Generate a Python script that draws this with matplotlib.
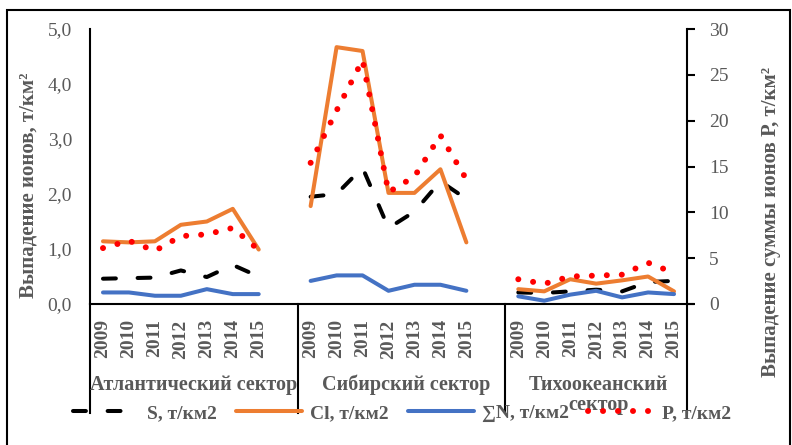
import numpy as np
import matplotlib
matplotlib.use('Agg')
from matplotlib import pyplot as plt
from matplotlib.patches import Rectangle

plt.rcParams['font.family'] = ['Liberation Serif', 'DejaVu Serif']

# Data
years = ['2009', '2010', '2011', '2012', '2013', '2014', '2015']
sectors = ['Атлантический сектор', 'Сибирский сектор', 'Тихоокеанский\nсектор']

S_atl = [0.46, 0.47, 0.48, 0.61, 0.49, 0.71, 0.50]
S_sib = [1.95, 2.00, 2.48, 1.38, 1.68, 2.23, 1.91]
S_pac = [0.21, 0.20, 0.23, 0.26, 0.23, 0.40, 0.42]

Cl_atl = [1.14, 1.12, 1.14, 1.44, 1.50, 1.73, 0.99]
Cl_sib = [1.78, 4.67, 4.60, 2.02, 2.02, 2.45, 1.12]
Cl_pac = [0.27, 0.23, 0.45, 0.37, 0.43, 0.50, 0.23]

N_atl = [0.21, 0.21, 0.15, 0.15, 0.27, 0.18, 0.18]
N_sib = [0.42, 0.52, 0.52, 0.24, 0.35, 0.35, 0.24]
N_pac = [0.14, 0.06, 0.17, 0.24, 0.12, 0.21, 0.18]

P_atl = [6.1, 6.9, 5.8, 7.4, 7.6, 8.3, 5.9]
P_sib = [15.4, 21.1, 26.6, 12.2, 13.9, 18.4, 13.6]
P_pac = [2.7, 2.2, 3.0, 3.1, 3.2, 4.5, 3.4]


def join(a, b, c):
    # blank category between sectors breaks the line
    return np.array(a + [np.nan] + b + [np.nan] + c, dtype=float)


S = join(S_atl, S_sib, S_pac)
Cl = join(Cl_atl, Cl_sib, Cl_pac)
N = join(N_atl, N_sib, N_pac)
P = join(P_atl, P_sib, P_pac)
x = np.arange(len(S))

gray = '#595959'

fig = plt.figure(figsize=(7.92, 4.45), dpi=100)
fig.patches.append(Rectangle((7 / 792, -0.02), 783 / 792, 1 - 10 / 445 + 0.02,
                             transform=fig.transFigure, fill=False,
                             edgecolor='black', lw=1.5))

ax = fig.add_axes([90 / 792, 1 - 304 / 445, 597 / 792, 275 / 445])

l_s, = ax.plot(x, S, color='black', lw=2.9, linestyle=(0, (3.2, 5.4)),
               dash_capstyle='round', label='S, т/км2')
l_cl, = ax.plot(x, Cl, color='#ED7D31', lw=2.9, solid_capstyle='round',
                solid_joinstyle='round', label='Cl, т/км2')
l_n, = ax.plot(x, N, color='#4472C4', lw=2.9, solid_capstyle='round',
               solid_joinstyle='round', label='∑N, т/км2')

ax.set_xlim(-0.5, 22.5)
ax.set_ylim(0, 5)
ax.set_yticks(np.arange(0, 6, 1))
ax.set_yticklabels(['0,0', '1,0', '2,0', '3,0', '4,0', '5,0'])
ax.tick_params(axis='y', length=0, pad=13, labelsize=14, labelcolor=gray)

pos = [i for i in range(23) if i not in (7, 15)]
ax.set_xticks(pos)
ax.set_xticklabels(years * 3, rotation=90, fontweight='bold')
ax.tick_params(axis='x', length=0, pad=11, labelsize=14, labelcolor=gray)

for s in ['top', 'right']:
    ax.spines[s].set_visible(False)
ax.spines['left'].set_linewidth(1.5)
ax.spines['bottom'].set_linewidth(1.5)
ax.spines['bottom'].set_bounds(-0.5, 22.73)

# sector separators and labels
for xs in [-0.5, 7.5, 15.5, 22.5]:
    ax.plot([xs, xs], [0, -0.396], transform=ax.get_xaxis_transform(),
            color='black', lw=1.5, clip_on=False)
centers = [3.5, 11.7, 19.1]
for c, name in zip(centers, sectors):
    two = '\n' in name
    ax.text(c, -0.258 if two else -0.295, name,
            transform=ax.get_xaxis_transform(),
            ha='center', va='top' if two else 'center',
            fontsize=14.5, fontweight='bold', color=gray,
            linespacing=1.0)

ax2 = ax.twinx()
l_p, = ax2.plot(x, P, color='#FF0000', lw=4.3, linestyle=(0, (0.01, 2.5)),
                dash_capstyle='round', label='P, т/км2')
ax2.set_ylim(0, 30)
ax2.set_yticks(np.arange(0, 31, 5))
ax2.tick_params(axis='y', length=6, width=1.5, direction='out', pad=10,
                labelsize=14, labelcolor=gray)
for s in ['top', 'left', 'bottom']:
    ax2.spines[s].set_visible(False)
ax2.spines['right'].set_linewidth(1.5)

fig.text(29 / 792, 1 - 185 / 445, 'Выпадение ионов, т/км²', rotation=90,
         ha='center', va='center', fontsize=15, fontweight='bold', color=gray)
fig.text(771 / 792, 1 - 222 / 445, 'Выпадение суммы ионов Р, т/км²',
         rotation=90, ha='center', va='center', fontsize=15,
         fontweight='bold', color=gray)

leg = fig.legend(handles=[l_s, l_cl, l_n, l_p], loc='center',
                 bbox_to_anchor=(402 / 792, 1 - 413 / 445), ncol=4,
                 frameon=False, handlelength=3.4, handletextpad=0.4,
                 columnspacing=1.0, prop={'size': 14, 'weight': 'bold'})
for t in leg.get_texts():
    t.set_color(gray)

fig.savefig('out.png', dpi=100)
